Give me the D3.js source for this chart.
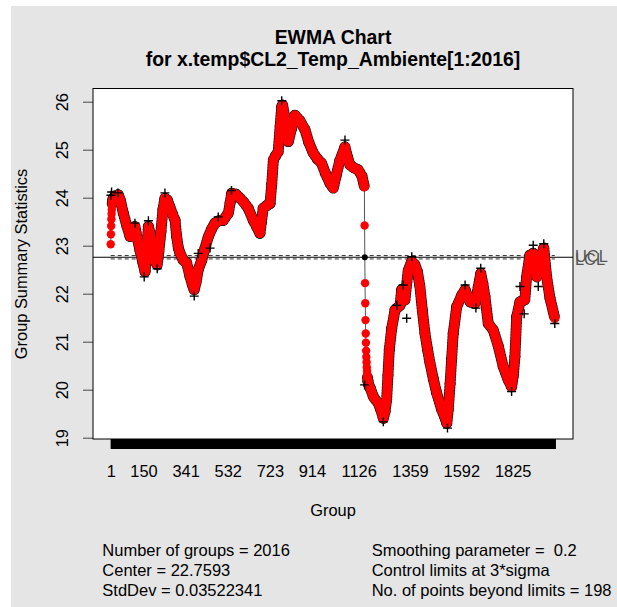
<!DOCTYPE html>
<html>
<head>
<meta charset="utf-8">
<script src="https://cdn.jsdelivr.net/npm/d3@7/dist/d3.min.js"></script>
<style>
  html, body { margin: 0; padding: 0; background: #ffffff; }
  svg { display: block; font-family: "Liberation Sans", Arial, Helvetica, sans-serif; }
  text { white-space: pre; }
</style>
</head>
<body>
<svg id="chart" width="617" height="607"></svg>
<script>
// EWMA chart of ambient temperature (2016 groups)

const nGroups = 2016;
const center = 22.7593;
const stdDev = 0.03522341;
const ucl = 22.7945;
const lcl = 22.7241;

// EWMA statistic, read at these groups
const ewmaGroups = [
  1, 2, 3, 4, 5, 6, 7, 8, 10, 14, 22, 35, 45, 58, 75, 89, 100, 111, 122, 134,
  147, 157, 165, 172, 180, 188, 200, 212, 220, 229, 238, 247, 258, 270, 282, 293,
  300, 308, 315, 330, 346, 361, 372, 380, 389, 398, 414, 429, 444, 459, 474, 492,
  512, 535, 543, 550, 570, 588, 606, 625, 648, 665, 678, 685, 693, 710, 724, 732,
  739, 750, 761, 770, 777, 781, 790, 800, 807, 822, 837, 860, 883, 900, 920, 940,
  958, 976, 996, 1011, 1026, 1041, 1064, 1075, 1087, 1105, 1124, 1141, 1152,
  1153, 1154, 1155, 1156, 1157, 1158, 1159, 1160, 1161, 1162, 1163, 1164, 1165,
  1166, 1168, 1172, 1180, 1193, 1215, 1227, 1238, 1246, 1253, 1259, 1265, 1276,
  1291, 1314, 1321, 1336, 1351, 1367, 1382, 1393, 1404, 1415, 1427, 1438, 1450,
  1465, 1480, 1503, 1515, 1526, 1533, 1541, 1548, 1555, 1571, 1594, 1609, 1620,
  1632, 1655, 1669, 1680, 1690, 1699, 1714, 1737, 1760, 1782, 1805, 1820, 1828,
  1835, 1843, 1858, 1880, 1888, 1903, 1918, 1934, 1956, 1966, 1979, 1994, 2016
];
const ewmaValues = [
  23.03, 23.24, 23.41, 23.55, 23.66, 23.75, 23.82, 23.88, 23.95, 24.00, 24.04, 24.06, 23.95, 23.68, 23.40, 23.19, 23.30, 23.40, 23.15, 22.90,
  22.65, 22.46, 22.95, 23.40, 23.25, 23.00, 22.70, 22.60, 22.90, 23.30, 23.75, 23.99, 23.95, 23.80, 23.65, 23.53,
  23.20, 22.95, 22.85, 22.70, 22.64, 22.35, 22.18, 22.08, 22.25, 22.50, 22.70, 22.95, 23.19, 23.35, 23.47, 23.52,
  23.53, 23.68, 23.90, 24.09, 24.07, 23.99, 23.90, 23.78, 23.53, 23.38, 23.26, 23.50, 23.78, 23.84, 23.88, 24.30,
  24.79, 24.88, 24.96, 25.50, 25.90, 25.93, 25.70, 25.30, 25.17, 25.45, 25.72, 25.60, 25.41, 25.15, 24.93, 24.80,
  24.72, 24.50, 24.30, 24.20, 24.50, 24.78, 25.06, 24.85, 24.68, 24.62, 24.58, 24.45, 24.23,
  23.42, 22.76, 22.22, 21.80, 21.45, 21.17, 20.98, 20.81, 20.68, 20.57, 20.47, 20.39, 20.32,
  20.26, 20.18, 20.10, 20.02, 19.85, 19.72, 19.58, 19.40, 19.55, 19.79, 20.30, 20.83, 21.28,
  21.66, 21.76, 22.08, 21.87, 22.49, 22.67, 22.60, 22.45, 22.15, 21.65, 21.17, 20.85, 20.55,
  20.22, 19.93, 19.58, 19.45, 19.30, 19.60, 20.13, 20.65, 21.17, 21.73, 21.97, 22.08, 21.95,
  21.83, 21.80, 22.15, 22.42, 22.20, 21.94, 21.38, 21.24, 20.90, 20.48, 20.20, 20.06, 20.30,
  20.69, 21.52, 21.83, 21.87, 22.35, 22.80, 22.84, 22.35, 22.80, 22.95, 22.35, 21.91, 21.49
];

// Group statistics standing clear of the EWMA band
const statGroups = [2, 5, 34, 111, 153, 172, 212, 247, 380, 398, 452, 489, 549, 777, 1064,
  1153, 1238, 1299, 1328, 1344, 1367, 1529, 1609, 1658, 1680, 1820, 1858, 1877, 1918, 1941, 1966, 2016];
const statValues = [24.05, 24.12, 24.10, 23.47, 22.35, 23.52, 22.52, 24.10, 21.95, 22.84, 22.95, 23.60, 24.15, 26.02, 25.20,
  20.10, 19.33, 21.76, 22.18, 21.49, 22.77, 19.20, 22.18, 21.70, 22.53, 19.96, 22.15, 21.58, 23.01, 22.15, 23.04, 21.38];

const yTicks = [19, 20, 21, 22, 23, 24, 25, 26];
const xTickLabels = [1, 150, 341, 532, 723, 914, 1126, 1359, 1592, 1825];

const title1 = "EWMA Chart";
const title2 = "for x.temp$CL2_Temp_Ambiente[1:2016]";
const statsLeft = ["Number of groups = 2016", "Center = 22.7593", "StdDev = 0.03522341"];
const statsRight = ["Smoothing parameter =  0.2", "Control limits at 3*sigma", "No. of points beyond limits = 198"];

// ---- layout
const W = 617, H = 607;
const box = { left: 93, right: 573, top: 88.5, bottom: 439 };
const fontBase = 16.4;

const svg = d3.select("#chart");

svg.append("rect").attr("width", W).attr("height", H).attr("fill", "#ffffff");
svg.append("rect").attr("x", 11).attr("y", 6).attr("width", W - 11).attr("height", H - 6).attr("fill", "#e5e5e5");
svg.append("rect")
  .attr("x", box.left).attr("y", box.top)
  .attr("width", box.right - box.left).attr("height", box.bottom - box.top)
  .attr("fill", "#ffffff");

const x = d3.scaleLinear().domain([1, nGroups]).range([110.7, 554.8]);
const y = d3.scaleLinear().domain([19, 26]).range([437.7, 101.7]);

// ---- axes
const allGroups = d3.range(1, nGroups + 1);
const xAxisTicks = svg.append("g")
  .attr("transform", `translate(0,${box.bottom})`)
  .call(d3.axisBottom(x).tickValues(allGroups).tickSize(10).tickFormat(""));
xAxisTicks.select(".domain").remove();
xAxisTicks.selectAll("line").attr("stroke", "#000").attr("stroke-width", 1);
xAxisTicks.selectAll("text").remove();

const xAxisLabels = svg.append("g")
  .attr("transform", `translate(0,${box.bottom})`)
  .call(d3.axisBottom(x).tickValues(xTickLabels).tickSize(0).tickPadding(26).tickFormat(d3.format("d")));
xAxisLabels.select(".domain").remove();
xAxisLabels.selectAll("text")
  .attr("font-size", fontBase).attr("fill", "#000")
  .attr("font-family", "Liberation Sans, Arial, sans-serif");

const yAxis = svg.append("g")
  .attr("transform", `translate(${box.left},0)`)
  .call(d3.axisLeft(y).tickValues(yTicks).tickSize(10).tickFormat(d3.format("d")));
yAxis.select(".domain").remove();
yAxis.selectAll("line").attr("stroke", "#444");
yAxis.selectAll("text")
  .attr("x", null).attr("dy", null)
  .attr("text-anchor", "middle")
  .attr("transform", "translate(-25,0) rotate(-90)")
  .attr("font-size", fontBase).attr("fill", "#000")
  .attr("font-family", "Liberation Sans, Arial, sans-serif");

// ---- centre line and control limits
svg.append("line")
  .attr("x1", box.left).attr("x2", box.right)
  .attr("y1", y(center)).attr("y2", y(center))
  .attr("stroke", "#000").attr("stroke-width", 1);

[ucl, lcl].forEach(v => {
  svg.append("line")
    .attr("x1", x(1)).attr("x2", x(nGroups))
    .attr("y1", y(v)).attr("y2", y(v))
    .attr("stroke", "#333").attr("stroke-width", 1)
    .attr("stroke-dasharray", "4,3");
});

// ---- EWMA line, band and points
const ewma = ewmaGroups.map((g, i) => ({ g, v: ewmaValues[i] }));
const line = d3.line().x(d => x(d.g)).y(d => y(d.v));

svg.append("path")
  .attr("d", line(ewma))
  .attr("fill", "none").attr("stroke", "#555").attr("stroke-width", 1);

const beyond = d => d.v > ucl || d.v < lcl;

// dark speckle of group statistics along the band edges
const pairs = d3.pairs(ewma).filter(([a, b]) => b.g - a.g > 1);
svg.append("g").selectAll("path")
  .data(pairs)
  .join("path")
  .attr("d", p => line(p))
  .attr("fill", "none")
  .attr("stroke", "#111")
  .attr("stroke-width", 11)
  .attr("stroke-linecap", "round")
  .attr("stroke-dasharray", "1,2");

svg.append("g").selectAll("path")
  .data(pairs.filter(([a, b]) => beyond(a) || beyond(b)))
  .join("path")
  .attr("d", p => line(p))
  .attr("fill", "none")
  .attr("stroke", "#ff0000")
  .attr("stroke-width", 9.5)
  .attr("stroke-linecap", "round");

svg.append("g").selectAll("circle")
  .data(ewma)
  .join("circle")
  .attr("cx", d => x(d.g)).attr("cy", d => y(d.v))
  .attr("r", d => beyond(d) ? 4.2 : 3)
  .attr("fill", d => beyond(d) ? "#ff0000" : "#000");

// group statistics as crosses
svg.append("g").selectAll("path")
  .data(statGroups.map((g, i) => ({ g, v: statValues[i] })))
  .join("path")
  .attr("transform", d => `translate(${x(d.g)},${y(d.v)})`)
  .attr("d", "M-4.5,0H4.5M0,-4.5V4.5")
  .attr("stroke", "#000").attr("stroke-width", 1.4).attr("fill", "none");

// ---- plot border
svg.append("rect")
  .attr("x", box.left).attr("y", box.top)
  .attr("width", box.right - box.left).attr("height", box.bottom - box.top)
  .attr("fill", "none").attr("stroke", "#000").attr("stroke-width", 1);

// ---- limit labels in the right margin (they sit on top of each other)
[["LCL", lcl], ["UCL", ucl]].forEach(([t, v]) => {
  svg.append("text")
    .attr("x", 575).attr("y", y(v))
    .attr("dominant-baseline", "central")
    .attr("font-size", fontBase).attr("fill", "#555")
    .text(t);
});

// ---- titles
svg.append("text").attr("x", 333).attr("y", 44)
  .attr("text-anchor", "middle").attr("font-size", 19.4).attr("font-weight", "bold")
  .text(title1);
svg.append("text").attr("x", 333).attr("y", 66)
  .attr("text-anchor", "middle").attr("font-size", 19.4).attr("font-weight", "bold")
  .text(title2);

svg.append("text").attr("x", 333).attr("y", 516)
  .attr("text-anchor", "middle").attr("font-size", fontBase)
  .text("Group");

svg.append("text")
  .attr("transform", `translate(27,264) rotate(-90)`)
  .attr("text-anchor", "middle").attr("font-size", fontBase)
  .text("Group Summary Statistics");

// ---- summary statistics
statsLeft.forEach((t, i) => {
  svg.append("text").attr("x", 102.3).attr("y", 556 + i * 20)
    .attr("font-size", 16.5).text(t);
});
statsRight.forEach((t, i) => {
  svg.append("text").attr("x", 371.7).attr("y", 556 + i * 20)
    .attr("font-size", 16.5).text(t);
});
</script>
</body>
</html>
